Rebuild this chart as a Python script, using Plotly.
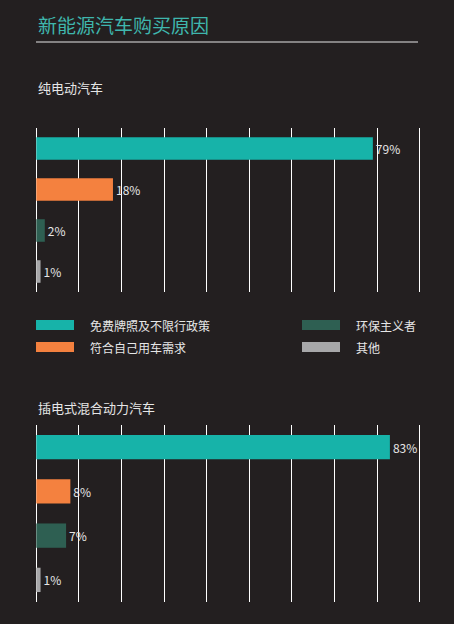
import plotly.graph_objects as go

categories = ["免费牌照及不限行政策", "符合自己用车需求", "环保主义者", "其他"]
bev_values = [79, 18, 2, 1]
phev_values = [83, 8, 7, 1]
colors = ["#17b3a9", "#f4813f", "#2e5f52", "#a7a7a9"]
W, H = 454, 624
BG = "#231f20"
FONT = "Noto Sans CJK SC"

def py(p):
    return 1 - p / H

fig = go.Figure()
for vals, ax in [(bev_values, ""), (phev_values, "2")]:
    fig.add_trace(go.Bar(
        x=vals, y=categories, orientation="h", marker_color=colors, marker_line_width=0,
        width=0.55, text=[f"{v}%" for v in vals], textposition="outside",
        textfont=dict(color="#e6e6e6", size=12, family=FONT), cliponaxis=False,
        xaxis="x" + ax, yaxis="y" + ax, showlegend=False))

xax = dict(range=[-0.3, 90.3], tickvals=list(range(0, 91, 10)), showgrid=True, gridcolor="#ffffff",
           gridwidth=1.2, showticklabels=False, zeroline=False,
           domain=[35 / W, 421 / W], fixedrange=True)
yax = dict(autorange="reversed", showticklabels=False, showgrid=False, zeroline=False)
fig.update_layout(
    width=W, height=H, paper_bgcolor=BG, plot_bgcolor=BG,
    margin=dict(l=0, r=0, t=0, b=0), bargap=0.45,
    xaxis=dict(xax, anchor="y"), yaxis=dict(yax, domain=[py(292), py(128)], anchor="x"),
    xaxis2=dict(xax, anchor="y2"), yaxis2=dict(yax, domain=[py(602), py(425)], anchor="x2"),
    font=dict(family=FONT, color="#e6e6e6"),
)

ann = [
    dict(text="新能源汽车购买原因", x=36 / W, y=py(25), font=dict(size=19, color="#3fb6ad")),
    dict(text="纯电动汽车", x=36 / W, y=py(88), font=dict(size=13)),
    dict(text="插电式混合动力汽车", x=36 / W, y=py(407), font=dict(size=13)),
]
shapes = [dict(type="line", xref="paper", yref="paper", x0=36 / W, x1=418 / W,
               y0=py(42), y1=py(42), line=dict(color="#e6e6e6", width=1))]
legend_pos = [(36, 325), (36, 347), (302, 325), (302, 347)]
for cat, col, (lx, ly) in zip(categories, colors, legend_pos):
    shapes.append(dict(type="rect", xref="paper", yref="paper", x0=lx / W, x1=(lx + 38) / W,
                       y0=py(ly + 5), y1=py(ly - 5), fillcolor=col, line_width=0))
    ann.append(dict(text=cat, x=(lx + 52) / W, y=py(ly), font=dict(size=12)))
for a in ann:
    a.update(xref="paper", yref="paper", xanchor="left", yanchor="middle", showarrow=False)
fig.update_layout(annotations=ann, shapes=shapes)
fig.write_html("out.html", config={"displayModeBar": False},
               post_script="document.body.style.margin='0';document.body.style.background='#231f20';")
